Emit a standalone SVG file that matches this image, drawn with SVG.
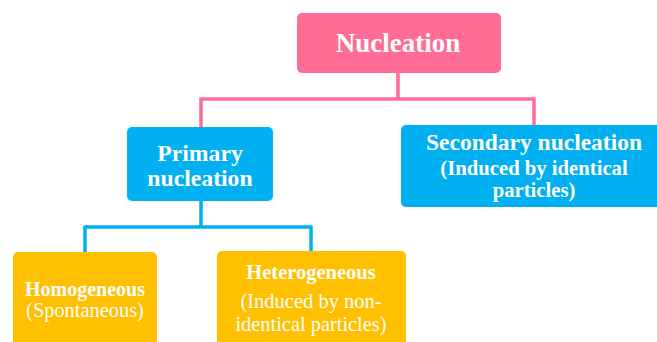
<svg xmlns="http://www.w3.org/2000/svg" width="657" height="342" viewBox="0 0 657 342">
<style>
.pink{fill:#FF6D96}
.blue{fill:#00B0F0}
.orange{fill:#FFC000}
text{font-family:"Liberation Serif","Times New Roman",serif;fill:#fff;text-anchor:middle}
.b{font-weight:bold}
.pl{fill:none;stroke:#FF6D96;stroke-width:3.5}
.bl{fill:none;stroke:#00B0F0;stroke-width:3.5}
</style>
<rect width="657" height="342" fill="#fff"/>
<g id="connectors">
<path class="pl" d="M398 73V99M201 99H534M201 97.5V128M534 97.5V126"/>
<path class="bl" d="M201 200V227M85 227H312M85 225.5V253M311 225.5V252"/>
</g>
<g id="nucleation">
<rect class="pink" x="297" y="13" width="204" height="60" rx="5"/>
<text class="b" x="398" y="52" font-size="27">Nucleation</text>
</g>
<g id="primary">
<rect class="blue" x="127" y="127" width="146" height="74" rx="5"/>
<text class="b" x="200" y="161" font-size="23.7">Primary</text>
<text class="b" x="200" y="186" font-size="23.7">nucleation</text>
</g>
<g id="secondary">
<rect class="blue" x="401" y="125" width="262" height="82" rx="5"/>
<text class="b" x="534" y="150" font-size="23.5">Secondary nucleation</text>
<text class="b" x="534" y="175" font-size="20.7">(Induced by identical</text>
<text class="b" x="534" y="197" font-size="20.7">particles)</text>
</g>
<g id="homogeneous">
<rect class="orange" x="13" y="252" width="144" height="100" rx="5"/>
<text class="b" x="85" y="296" font-size="20">Homogeneous</text>
<text x="85" y="317" font-size="20.4">(Spontaneous)</text>
</g>
<g id="heterogeneous">
<rect class="orange" x="217" y="251" width="189" height="101" rx="5"/>
<text class="b" x="311" y="279" font-size="20.5">Heterogeneous</text>
<text x="311" y="308" font-size="20.5">(Induced by non-</text>
<text x="311" y="331" font-size="20.4">identical particles)</text>
</g>
</svg>
